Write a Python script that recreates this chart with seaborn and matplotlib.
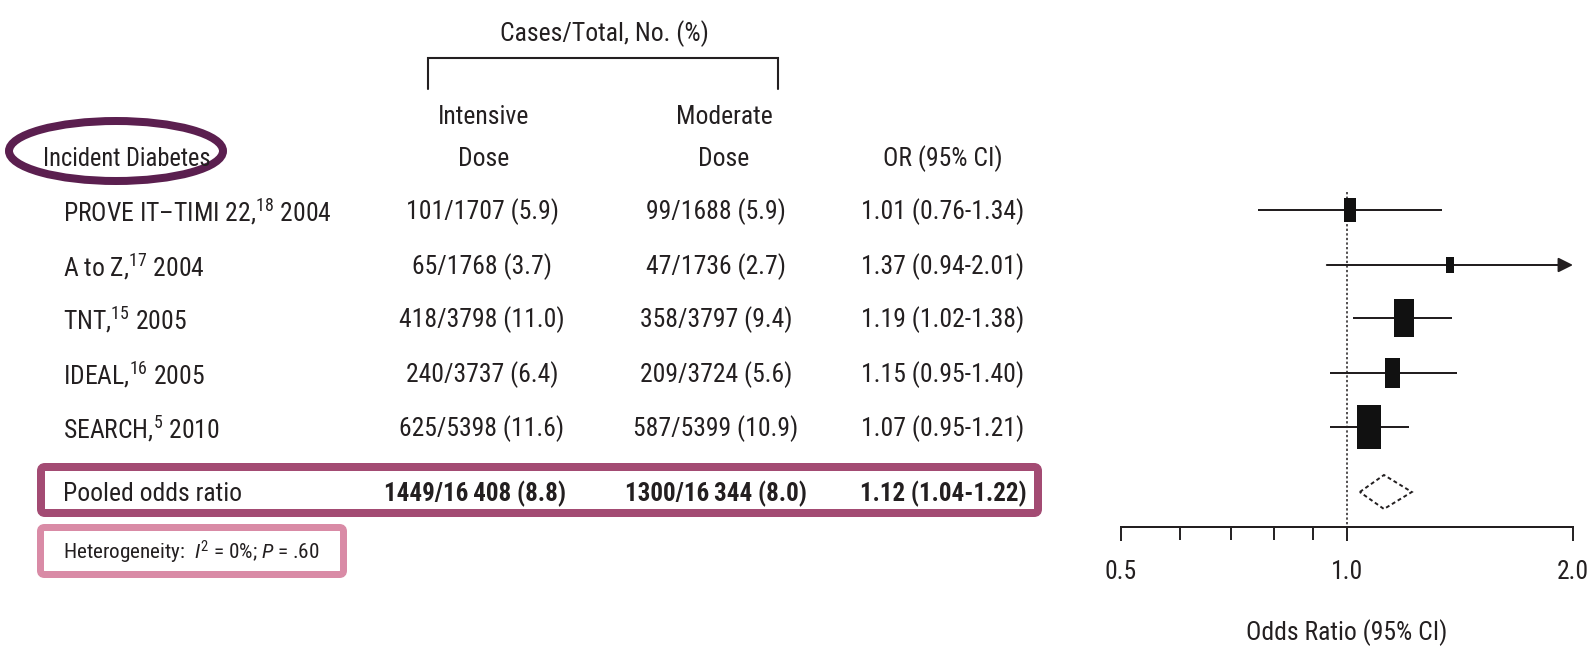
import os
import dataclasses
import numpy as np
import pandas as pd
import matplotlib
matplotlib.use("Agg")
import matplotlib.pyplot as plt
from matplotlib import font_manager as fm
from matplotlib.patches import Ellipse, FancyBboxPatch
from matplotlib.path import Path
from matplotlib.ticker import FixedLocator, NullFormatter
import seaborn as sns

# ---- data -------------------------------------------------------------
studies = ["PROVE IT\u2013TIMI 22,", "A to Z,", "TNT,", "IDEAL,", "SEARCH,"]
refs = ["18", "17", "15", "16", "5"]
years = ["2004", "2004", "2005", "2005", "2010"]
intensive = ["101/1707 (5.9)", "65/1768 (3.7)", "418/3798 (11.0)",
             "240/3737 (6.4)", "625/5398 (11.6)"]
moderate = ["99/1688 (5.9)", "47/1736 (2.7)", "358/3797 (9.4)",
            "209/3724 (5.6)", "587/5399 (10.9)"]
odds_ratio = [1.01, 1.37, 1.19, 1.15, 1.07]
ci_low = [0.76, 0.94, 1.02, 0.95, 0.95]
ci_high = [1.34, 2.01, 1.38, 1.40, 1.21]
weights = [10.9, 4.8, 27.9, 17.5, 38.9]

pooled_intensive = "1449/16\u2009408 (8.8)"
pooled_moderate = "1300/16\u2009344 (8.0)"
pooled_or, pooled_low, pooled_high = 1.12, 1.04, 1.22
heterogeneity = "Heterogeneity:  $I^2$ = 0%; $P$ = .60"

x_ticks = [0.5, 1.0, 2.0]
x_tick_labels = ["0.5", "1.0", "2.0"]
minor_ticks = [0.6, 0.7, 0.8, 0.9]


# ---- fonts: prefer a condensed sans face ------------------------------
def _key(path):
    b = os.path.splitext(os.path.basename(path))[0].lower()
    for tok in ("regular", "bold", "italic", "oblique", "-", "_", " "):
        b = b.replace(tok, "")
    return b


def _setup_font():
    entries = fm.fontManager.ttflist
    prefs = ["liberationsansnarrow", "robotocondensed", "notosanscondensed",
             "opensanscondensed", "dejavusanscondensed", "arialnarrow"]
    regular = None
    for p in prefs:
        for e in entries:
            if (_key(e.fname) == p and e.style == "normal"
                    and e.weight in (400, "normal", "regular")):
                regular = e
                break
        if regular is not None:
            break
    if regular is None:
        for e in entries:
            b = os.path.basename(e.fname).lower()
            if (("narrow" in b or "condensed" in b) and "cjk" not in b
                    and not any(t in b for t in ("extra", "semi", "ultra", "bold",
                                                 "italic", "light", "medium", "thin",
                                                 "black", "mono"))
                    and e.style == "normal"):
                regular = e
                break
    if regular is None:
        return "Liberation Sans"
    key = _key(regular.fname)
    bold = italic = None
    for e in entries:
        if _key(e.fname) != key or e is regular:
            continue
        b = os.path.basename(e.fname).lower()
        if "bold" in b and "italic" not in b and e.style == "normal":
            bold = e
        elif "italic" in b and "bold" not in b:
            italic = e
    name = "ChartNarrow"
    entries.append(dataclasses.replace(regular, name=name, weight=400,
                                       style="normal", stretch="normal"))
    entries.append(dataclasses.replace(bold or regular, name=name, weight=700,
                                       style="normal", stretch="normal"))
    entries.append(dataclasses.replace(italic or regular, name=name, weight=400,
                                       style="italic", stretch="normal"))
    return name


sns.set_theme(style="white")
FAM = _setup_font()
plt.rcParams["font.family"] = [FAM, "DejaVu Sans"]
plt.rcParams["mathtext.fontset"] = "custom"
plt.rcParams["mathtext.rm"] = FAM
plt.rcParams["mathtext.it"] = f"{FAM}:italic"
plt.rcParams["mathtext.bf"] = f"{FAM}:bold"

INK = "#231f20"
PX = 0.72  # points per pixel at 100 dpi

W, H = 1591, 651
fig = plt.figure(figsize=(W / 100, H / 100), dpi=100)
fig.patch.set_facecolor("white")
renderer = fig.canvas.get_renderer()


def fit_size(sample, width_px, **kw):
    t = fig.text(0, 0, sample, fontsize=20, **kw)
    w = t.get_window_extent(renderer).width
    t.remove()
    return 20 * width_px / w


FS = min(fit_size("101/1707 (5.9)", 152), 24)
FS_BOLD = min(fit_size(pooled_intensive, 182, fontweight="bold"), FS)
FS_HET = 0.9 * min(fit_size("Heterogeneity:  I2 = 0%; P = .60", 262) * 1.09, FS * 1.12)
FS_ID = min(fit_size("Incident Diabetes", 168), FS)

# canvas axes in pixel units for the table part
bg = fig.add_axes([0, 0, 1, 1])
bg.set_xlim(0, W)
bg.set_ylim(H, 0)
bg.axis("off")

row_y = [210, 265, 318, 373, 427]
text_dy = 2
pooled_y = 492
het_y = 552

col_label = 63
col_int = 482
col_mod = 716
col_or = 943

# column headers
bg.text(604, 34, "Cases/Total, No. (%)", ha="center", va="center", fontsize=FS, color=INK)
bg.plot([428, 428, 778, 778], [89, 58, 58, 89], color=INK, lw=1.5,
        solid_joinstyle="miter")
bg.text(484, 117, "Intensive", ha="center", va="center", fontsize=FS, color=INK)
bg.text(484, 159, "Dose", ha="center", va="center", fontsize=FS, color=INK)
bg.text(724, 117, "Moderate", ha="center", va="center", fontsize=FS, color=INK)
bg.text(724, 159, "Dose", ha="center", va="center", fontsize=FS, color=INK)
bg.text(col_or, 159, "OR (95% CI)", ha="center", va="center", fontsize=FS, color=INK)
bg.text(43, 159, "Incident Diabetes", ha="left", va="center", fontsize=FS_ID, color=INK)
bg.add_patch(Ellipse((116, 151), 214, 60, fill=False, ec="#5b1f4f", lw=8 * PX))

# study rows
for i, y in enumerate(row_y):
    ty = y + text_dy
    bg.text(col_label, ty, f"{studies[i]}$^{{{refs[i]}}}$ {years[i]}",
            ha="left", va="center", fontsize=FS, color=INK)
    bg.text(col_int, ty, intensive[i], ha="center", va="center", fontsize=FS, color=INK)
    bg.text(col_mod, ty, moderate[i], ha="center", va="center", fontsize=FS, color=INK)
    bg.text(col_or, ty,
            f"{odds_ratio[i]:.2f} ({ci_low[i]:.2f}-{ci_high[i]:.2f})",
            ha="center", va="center", fontsize=FS, color=INK)

# pooled row
bg.text(col_label, pooled_y + text_dy, "Pooled odds ratio", ha="left", va="center",
        fontsize=FS, color=INK)
bg.text(475, pooled_y + text_dy, pooled_intensive, ha="center", va="center",
        fontsize=FS_BOLD, color=INK, fontweight="bold")
bg.text(col_mod, pooled_y + text_dy, pooled_moderate, ha="center", va="center",
        fontsize=FS_BOLD, color=INK, fontweight="bold")
bg.text(col_or, pooled_y + text_dy,
        f"{pooled_or:.2f} ({pooled_low:.2f}-{pooled_high:.2f})",
        ha="center", va="center", fontsize=FS_BOLD, color=INK, fontweight="bold")
bg.add_patch(FancyBboxPatch((41, 467), 997, 46, boxstyle="round,pad=0,rounding_size=4",
                            fill=False, ec="#a34b73", lw=8 * PX))

# heterogeneity
bg.text(col_label, het_y, heterogeneity, ha="left", va="center", fontsize=FS_HET, color=INK)
bg.add_patch(FancyBboxPatch((40.5, 527.5), 303, 47, boxstyle="round,pad=0,rounding_size=4",
                            fill=False, ec="#d98ba6", lw=7 * PX))

# ---- forest plot ------------------------------------------------------
fx0, fx1 = 1121, 1573
fy_top, fy_bot = 185, 527
ax = fig.add_axes([fx0 / W, 1 - fy_bot / H, (fx1 - fx0) / W, (fy_bot - fy_top) / H])
ax.set_facecolor("none")
ax.set_xscale("log")
ax.set_xlim(0.5, 2.0)
ax.set_ylim(fy_bot, fy_top)

# reference line at OR = 1
ax.vlines(1.0, 192, fy_bot, colors=INK, linestyles=(0, (1.5, 1.5)), lw=1.1)

# confidence intervals
for y, lo, hi in zip(row_y, ci_low, ci_high):
    if hi > 2.0:
        ax.annotate("", xy=(2.0, y), xytext=(lo, y),
                    arrowprops=dict(arrowstyle="-|>", mutation_scale=22, lw=2 * PX,
                                    color=INK, shrinkA=0, shrinkB=0),
                    annotation_clip=False)
    else:
        ax.hlines(y, lo, hi, colors=INK, lw=2 * PX)

# study-weighted boxes
box = Path([(-0.265, -0.5), (0.265, -0.5), (0.265, 0.5), (-0.265, 0.5), (-0.265, -0.5)],
           closed=True)
df = pd.DataFrame({"or": odds_ratio, "y": row_y, "w": weights})
k = 25.9
sns.scatterplot(data=df, x="or", y="y", size="w", sizes=(k * min(weights), k * max(weights)),
                marker=box, color="#111111", edgecolor="none", linewidth=0,
                legend=False, ax=ax, zorder=3)

# pooled diamond
ax.fill([pooled_low, pooled_or, pooled_high, pooled_or],
        [pooled_y, pooled_y - 17, pooled_y, pooled_y + 17],
        facecolor="white", edgecolor=INK, lw=1.4, linestyle=(0, (2, 1.5)), zorder=3)

for s in ["left", "top", "right"]:
    ax.spines[s].set_visible(False)
ax.spines["bottom"].set_color(INK)
ax.spines["bottom"].set_linewidth(2 * PX)
ax.set_yticks([])
ax.set_xticks(x_ticks)
ax.set_xticklabels(x_tick_labels)
ax.xaxis.set_minor_locator(FixedLocator(minor_ticks))
ax.xaxis.set_minor_formatter(NullFormatter())
ax.tick_params(axis="x", which="major", direction="out", length=10, width=1.4,
               colors=INK, pad=14, labelsize=FS, bottom=True)
ax.tick_params(axis="x", which="minor", direction="out", length=9.5, width=1.4,
               colors=INK, bottom=True)
ax.set_xlabel("")
ax.set_ylabel("")

bg.text(1347, 633, "Odds Ratio (95% CI)", ha="center", va="center", fontsize=FS, color=INK)

fig.savefig("out.png", dpi=100, facecolor="white")
